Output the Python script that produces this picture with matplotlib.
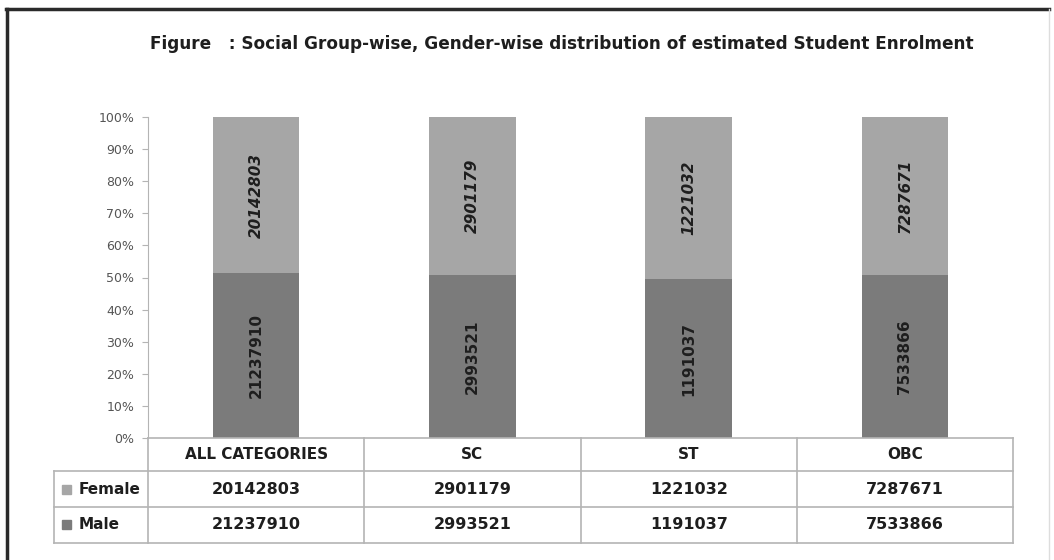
import numpy as np
import matplotlib
matplotlib.use("Agg")
import matplotlib.pyplot as plt
from matplotlib.lines import Line2D
from matplotlib.patches import Rectangle

plt.rcParams['font.family'] = ['DejaVu Sans']

categories = ["ALL CATEGORIES", "SC", "ST", "OBC"]
female = [20142803, 2901179, 1221032, 7287671]
male = [21237910, 2993521, 1191037, 7533866]
yticks = [0, 10, 20, 30, 40, 50, 60, 70, 80, 90, 100]

female_col = "#a6a6a6"
male_col = "#7b7b7b"
grid_col = "#b4b4b4"
txt_col = "#1e1e1e"

total = np.array(female) + np.array(male)
male_pct = np.array(male) / total * 100
female_pct = np.array(female) / total * 100

fig = plt.figure(figsize=(10.54, 5.6), dpi=100)
ax = fig.add_axes([148 / 1054, 1 - 438 / 560, (1013 - 148) / 1054, (438 - 117) / 560])

x = np.arange(len(categories))
ax.bar(x, male_pct, width=0.4, color=male_col, label="Male")
ax.bar(x, female_pct, width=0.4, bottom=male_pct, color=female_col, label="Female")

for i in range(len(categories)):
    ax.text(x[i], male_pct[i] / 2, str(male[i]), rotation=90, ha="center", va="center",
            fontsize=11, fontweight="bold", color=txt_col)
    ax.text(x[i], male_pct[i] + female_pct[i] / 2, str(female[i]), rotation=90,
            ha="center", va="center", fontsize=11, fontweight="bold", style="italic",
            color=txt_col)

ax.set_xlim(-0.5, 3.5)
ax.set_ylim(0, 100)
ax.set_yticks(yticks)
ax.set_yticklabels([f"{t}%" for t in yticks], fontsize=9, color="#555555")
ax.tick_params(axis="y", length=4, color=grid_col, pad=6)
ax.set_xticks([])
for s in ["top", "right", "bottom"]:
    ax.spines[s].set_visible(False)
ax.spines["left"].set_color(grid_col)

# data table under the bars
tr = ax.get_xaxis_transform()
row_h = [0, -0.103, -0.215, -0.327]
x_left = -0.935
lines = [
    ([-0.5, 3.5], [0, 0]),
    ([x_left, 3.5], [row_h[1], row_h[1]]),
    ([x_left, 3.5], [row_h[2], row_h[2]]),
    ([x_left, 3.5], [row_h[3], row_h[3]]),
    ([x_left, x_left], [row_h[1], row_h[3]]),
]
for xb in [-0.5, 0.5, 1.5, 2.5, 3.5]:
    lines.append(([xb, xb], [0, row_h[3]]))
for xs, ys in lines:
    ax.add_line(Line2D(xs, ys, transform=tr, color=grid_col, lw=1.2, clip_on=False))

for i, cat in enumerate(categories):
    ax.text(x[i], (row_h[0] + row_h[1]) / 2, cat, transform=tr, ha="center", va="center",
            fontsize=11, fontweight="bold", color=txt_col)
    ax.text(x[i], (row_h[1] + row_h[2]) / 2, str(female[i]), transform=tr, ha="center",
            va="center", fontsize=11.5, fontweight="bold", color=txt_col)
    ax.text(x[i], (row_h[2] + row_h[3]) / 2, str(male[i]), transform=tr, ha="center",
            va="center", fontsize=11.5, fontweight="bold", color=txt_col)

for (name, col, r0, r1) in [("Female", female_col, row_h[1], row_h[2]),
                            ("Male", male_col, row_h[2], row_h[3])]:
    yc = (r0 + r1) / 2
    ax.add_patch(Rectangle((x_left + 0.038, yc - 0.014), 0.042, 0.028, transform=tr,
                           color=col, clip_on=False))
    ax.text(-0.822, yc, name, transform=tr, ha="left", va="center",
            fontsize=11, fontweight="bold", color=txt_col)

fig.text(562 / 1054, 1 - 44 / 560,
         "Figure   : Social Group-wise, Gender-wise distribution of estimated Student Enrolment",
         ha="center", va="center", fontsize=12.2, fontweight="bold", color=txt_col)

# outer frame
fig.add_artist(Line2D([7 / 1054, 7 / 1054], [0, 1 - 9 / 560], transform=fig.transFigure,
                      color="#2a2a2a", lw=2.5))
fig.add_artist(Line2D([6 / 1054, 1049 / 1054], [1 - 9 / 560, 1 - 9 / 560],
                      transform=fig.transFigure, color="#2a2a2a", lw=2.5))
fig.add_artist(Line2D([1049 / 1054, 1049 / 1054], [0, 1 - 9 / 560], transform=fig.transFigure,
                      color="#dddddd", lw=1))

fig.savefig("out.png", dpi=100, facecolor="white")
